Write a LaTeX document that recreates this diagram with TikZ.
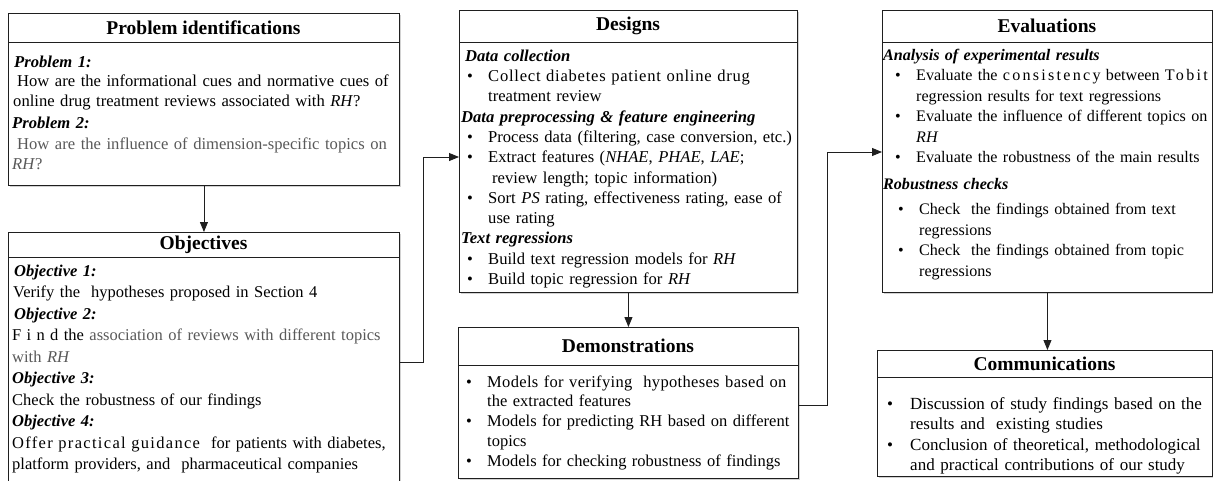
\documentclass[tikz,border=0pt]{standalone}
\usepackage{fontspec}
\setmainfont{Liberation Serif}
\usetikzlibrary{arrows.meta,shadows}
\newcommand\ls[2]{{\addfontfeature{LetterSpace=#1}#2}}
\newcommand\hd[1]{\textbf{\textit{#1}}}
\newlength\bulo \newlength\bult
\newcommand\bl[1]{\makebox[\bult][l]{\hspace*{\bulo}\textbullet}#1}
\newcommand\cl[1]{\hspace*{\bult}#1}
\newcommand\fs{\rule{0pt}{12.5pt}}
\definecolor{gt}{gray}{0.35}
\definecolor{ln}{gray}{0.12}
\begin{document}
\begin{tikzpicture}[x=1pt,y=-1pt,
  frame/.style={draw=ln, line width=0.9pt, fill=white, anchor=north west, inner sep=0pt,
    drop shadow={shadow xshift=1.6pt, shadow yshift=-1.6pt, fill=black!35, opacity=0.5}},
  ttl/.style={font=\fontsize{19.5}{22}\selectfont\bfseries, inner sep=0pt},
  body/.style={anchor=north west, inner sep=0pt, align=left, text width=#1},
  sep/.style={draw=ln, line width=0.9pt},
  conn/.style={draw=ln, line width=0.9pt, -{Triangle[length=10pt,width=8pt]}}
]
\useasboundingbox (0,0) rectangle (1213,480);
\begin{scope}
\clip (0,0) rectangle (1213,480);

% Problem identifications
\node[frame, minimum width=391pt, minimum height=172pt] (P) at (8,13) {};
\node[ttl] (Pt) at (203.5,27.5) {Problem identifications};
\draw[sep] (8,42) -- (399,42);
\node[body=395pt, font=\fontsize{16.6}{19.5}\selectfont] (Pb) at (12,54.5) {%
\fs\hspace*{2pt}\hd{Problem 1:}\\
\hspace*{5pt}How are the informational cues and normative cues of\\
\hspace*{1pt}online drug treatment reviews associated with \textit{RH}?\\[3pt]
\hd{Problem 2:}\\[1.5pt]
{\color{gt}\hspace*{5pt}How are the influence of dimension-specific topics on}\\
{\color{gt}\textit{RH}?}};

% Objectives
\node[frame, minimum width=391pt, minimum height=252pt] (O) at (8,232) {};
\node[ttl] (Ot) at (203.5,244.5) {Objectives};
\draw[sep] (8,257) -- (399,257);
\node[body=395pt, font=\fontsize{16.5}{21.5}\selectfont] (Ob) at (12,263.5) {%
\fs\hspace*{2pt}\hd{Objective 1:}\\
\hspace*{1pt}Verify the\ \ hypotheses proposed in Section 4\\
\hspace*{2pt}\hd{Objective 2:}\\
\ls{32}{Find} the {\color{gt}association of reviews with different topics}\\
{\color{gt}with \textit{RH}}\\
\hd{Objective 3:}\\
Check the robustness of our findings\\
\hd{Objective 4:}\\
\ls{8}{Offer practical guidance}\ \ for patients with diabetes,\\
platform providers, and\ \ pharmaceutical companies};

% Designs
\node[frame, minimum width=338pt, minimum height=282pt] (D) at (459,10) {};
\node[ttl] (Dt) at (628,26) {Designs};
\draw[sep] (459,42) -- (797,42);
\node[body=350pt, font=\fontsize{16.6}{20.3}\selectfont] (Db) at (459,48.5) {%
\setlength\bulo{8pt}\setlength\bult{29pt}%
\fs\hspace*{6pt}\hd{Data collection}\\
\bl{\ls{4.5}{Collect diabetes patient online drug}}\\
\cl{treatment review}\\
\hspace*{2pt}\hd{Data preprocessing \& feature engineering}\\
\bl{Process data (filtering, case conversion, etc.)}\\
\bl{Extract features (\textit{NHAE}, \textit{PHAE}, \textit{LAE};}\\
\cl{\hspace*{4pt}review length; topic information)}\\
\bl{Sort \textit{PS} rating, effectiveness rating, ease of}\\
\cl{use rating}\\
\hspace*{2pt}\hd{Text regressions}\\
\bl{Build text regression models for \textit{RH}}\\
\bl{Build topic regression for \textit{RH}}};

% Demonstrations
\node[frame, minimum width=340pt, minimum height=151pt] (M) at (458,327) {};
\node[ttl] (Mt) at (628,346) {Demonstrations};
\draw[sep] (458,365) -- (798,365);
\node[body=350pt, font=\fontsize{16.5}{19.7}\selectfont] (Mb) at (458,374.5) {%
\setlength\bulo{8pt}\setlength\bult{29pt}%
\fs\bl{\ls{2}{Models for verifying\ \ hypotheses based on}}\\
\cl{the extracted features}\\
\bl{Models for predicting RH based on different}\\
\cl{topics}\\
\bl{Models for checking robustness of findings}};

% Evaluations
\node[frame, minimum width=330pt, minimum height=282pt] (E) at (882,10) {};
\node[ttl] (Et) at (1047,26) {Evaluations};
\draw[sep] (882,42) -- (1212,42);
\node[body=345pt, font=\fontsize{16.1}{20.5}\selectfont] (Eb) at (883,47.5) {%
\setlength\bulo{12pt}\setlength\bult{33pt}%
\fs\hd{Analysis of experimental results}\\
\bl{Evaluate the \ls{14}{consistency} between \ls{14}{Tobit}}\\
\cl{regression results for text regressions}\\
\bl{Evaluate the influence of different topics on}\\
\cl{\textit{RH}}\\
\bl{Evaluate the robustness of the main results}\\[6pt]
\hd{Robustness checks}\\[5pt]
\hspace*{3pt}\bl{Check\ \ the findings obtained from text}\\
\hspace*{3pt}\cl{regressions}\\
\hspace*{3pt}\bl{Check\ \ the findings obtained from topic}\\
\hspace*{3pt}\cl{regressions}};

% Communications
\node[frame, minimum width=335pt, minimum height=126pt] (C) at (877,350) {};
\node[ttl] (Ct) at (1044.5,363.5) {Communications};
\draw[sep] (877,377) -- (1212,377);
\node[body=345pt, font=\fontsize{17}{20.5}\selectfont] (Cb) at (877,396.5) {%
\setlength\bulo{10pt}\setlength\bult{33pt}%
\fs\bl{Discussion of study findings based on the}\\
\cl{results and\ \ existing studies}\\
\bl{Conclusion of theoretical, methodological}\\
\cl{and practical contributions of our study}};

% connectors
\draw[conn] (P.south) -- (O.north);
\draw[conn] (D.south) -- (M.north);
\draw[conn] (E.south) -- (E.south |- C.north);
\coordinate (k1) at (423,362);
\coordinate (k2) at (423,157);
\draw[conn] (O.east |- k1) -- (k1) -- (k2) -- (D.west |- k2);
\coordinate (k3) at (827,405);
\coordinate (k4) at (827,152);
\draw[conn] (M.east |- k3) -- (k3) -- (k4) -- (E.west |- k4);
\end{scope}
\end{tikzpicture}
\end{document}
